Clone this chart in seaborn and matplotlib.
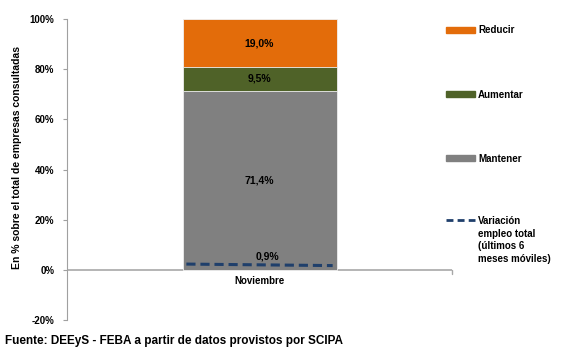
import numpy as np
import pandas as pd
import matplotlib
matplotlib.use("Agg")
import matplotlib.pyplot as plt
import seaborn as sns
from matplotlib.lines import Line2D
from matplotlib.patches import Rectangle

# datos
categorias = ["Noviembre"]
mantener = [71.4]
aumentar = [9.5]
reducir = [19.0]
variacion_empleo = [2.3, 1.7]   # linea punteada (inicio y fin del tramo)
variacion_label = ["0,9%"]
yticks = [-20, 0, 20, 40, 60, 80, 100]

col_reducir = "#E36C0A"
col_aumentar = "#4F6228"
col_mantener = "#808080"
col_linea = "#1F3F6B"

sns.set_style("white")
plt.rcParams["font.family"] = ["Liberation Sans", "DejaVu Sans"]
plt.rcParams["font.weight"] = "bold"
plt.rcParams["text.color"] = "black"
plt.rcParams["ytick.labelcolor"] = "black"
plt.rcParams["axes.labelcolor"] = "black"

df = pd.DataFrame({"mes": categorias, "mantener": mantener,
                   "aumentar": aumentar, "reducir": reducir})
df["c1"] = df["mantener"]
df["c2"] = df["c1"] + df["aumentar"]
df["c3"] = df["c2"] + df["reducir"]

fig = plt.figure(figsize=(5.65, 3.59), dpi=100)
ax = fig.add_axes([0.1186, 0.1086, 0.6814, 0.8384])

ancho = 0.4
sns.barplot(data=df, x="mes", y="c3", color=col_reducir, width=ancho,
            saturation=1, edgecolor="#f0f0f0", linewidth=0.6, ax=ax)
sns.barplot(data=df, x="mes", y="c2", color=col_aumentar, width=ancho,
            saturation=1, edgecolor="#f0f0f0", linewidth=0.6, ax=ax)
sns.barplot(data=df, x="mes", y="c1", color=col_mantener, width=ancho,
            saturation=1, edgecolor="#f0f0f0", linewidth=0.6, ax=ax)

# linea de variacion de empleo a lo ancho de la barra
xs = [0 - ancho / 2 + 0.01, 0 + ancho / 2 - 0.01]
ax.plot(xs, variacion_empleo, color=col_linea, lw=2.2, ls=(0, (3, 1.6)))

# etiquetas de valores
for i, r in df.iterrows():
    ax.text(i, r["c2"] + r["reducir"] / 2, f"{r['reducir']:.1f}%".replace(".", ","),
            ha="center", va="center", fontsize=7.5, fontweight="bold")
    ax.text(i, r["c1"] + r["aumentar"] / 2, f"{r['aumentar']:.1f}%".replace(".", ","),
            ha="center", va="center", fontsize=7.5, fontweight="bold")
    ax.text(i, r["mantener"] / 2, f"{r['mantener']:.1f}%".replace(".", ","),
            ha="center", va="center", fontsize=7.5, fontweight="bold")
    ax.text(i + 0.02, 5.5, variacion_label[i], ha="center", va="center",
            fontsize=7.5, fontweight="bold")

ax.set_xlim(-0.5, 0.5)
ax.set_ylim(-20, 100)
ax.set_yticks(yticks)
ax.set_yticklabels([f"{t}%" for t in yticks], fontsize=7, fontweight="bold")
ax.set_xticks([])
ax.set_xlabel("")
ax.set_ylabel("En % sobre el total de empresas consultadas", fontsize=7.5,
              fontweight="bold")
ax.yaxis.set_label_coords(-0.118, 0.54)

for s in ["top", "right", "bottom"]:
    ax.spines[s].set_visible(False)
ax.spines["left"].set_color("#a0a0a0")
ax.tick_params(axis="y", length=3, color="#a0a0a0", pad=6, left=True)
ax.axhline(0, color="#a8a8a8", lw=1.2, zorder=0)
ax.plot([0.5, 0.5], [0, -1.8], color="#a8a8a8", lw=1, clip_on=False)

for i, c in enumerate(categorias):
    ax.text(i, -2.5, c, ha="center", va="top", fontsize=7, fontweight="bold")

# leyenda manual
ley = [("Reducir", col_reducir, "patch", 0.917),
       ("Aumentar", col_aumentar, "patch", 0.738),
       ("Mantener", col_mantener, "patch", 0.560),
       ("Variación\nempleo total\n(últimos 6\nmeses móviles)", col_linea, "line", 0.387)]
for txt, col, tipo, yy in ley:
    if tipo == "patch":
        fig.patches.append(Rectangle((0.789, yy - 0.008), 0.052, 0.016,
                                     transform=fig.transFigure, color=col))
    else:
        fig.lines.append(Line2D([0.789, 0.841], [yy, yy], transform=fig.transFigure,
                                color=col, lw=2, ls=(0, (2.5, 1.5))))
    fig.text(0.846, yy + 0.012, txt, ha="left", va="top", fontsize=7,
             fontweight="bold", linespacing=1.35)

fig.text(0.009, 0.05, "Fuente: DEEyS - FEBA a partir de datos provistos por SCIPA",
         ha="left", va="center", fontsize=8.5, fontweight="bold")

fig.savefig("out.png", dpi=100)
